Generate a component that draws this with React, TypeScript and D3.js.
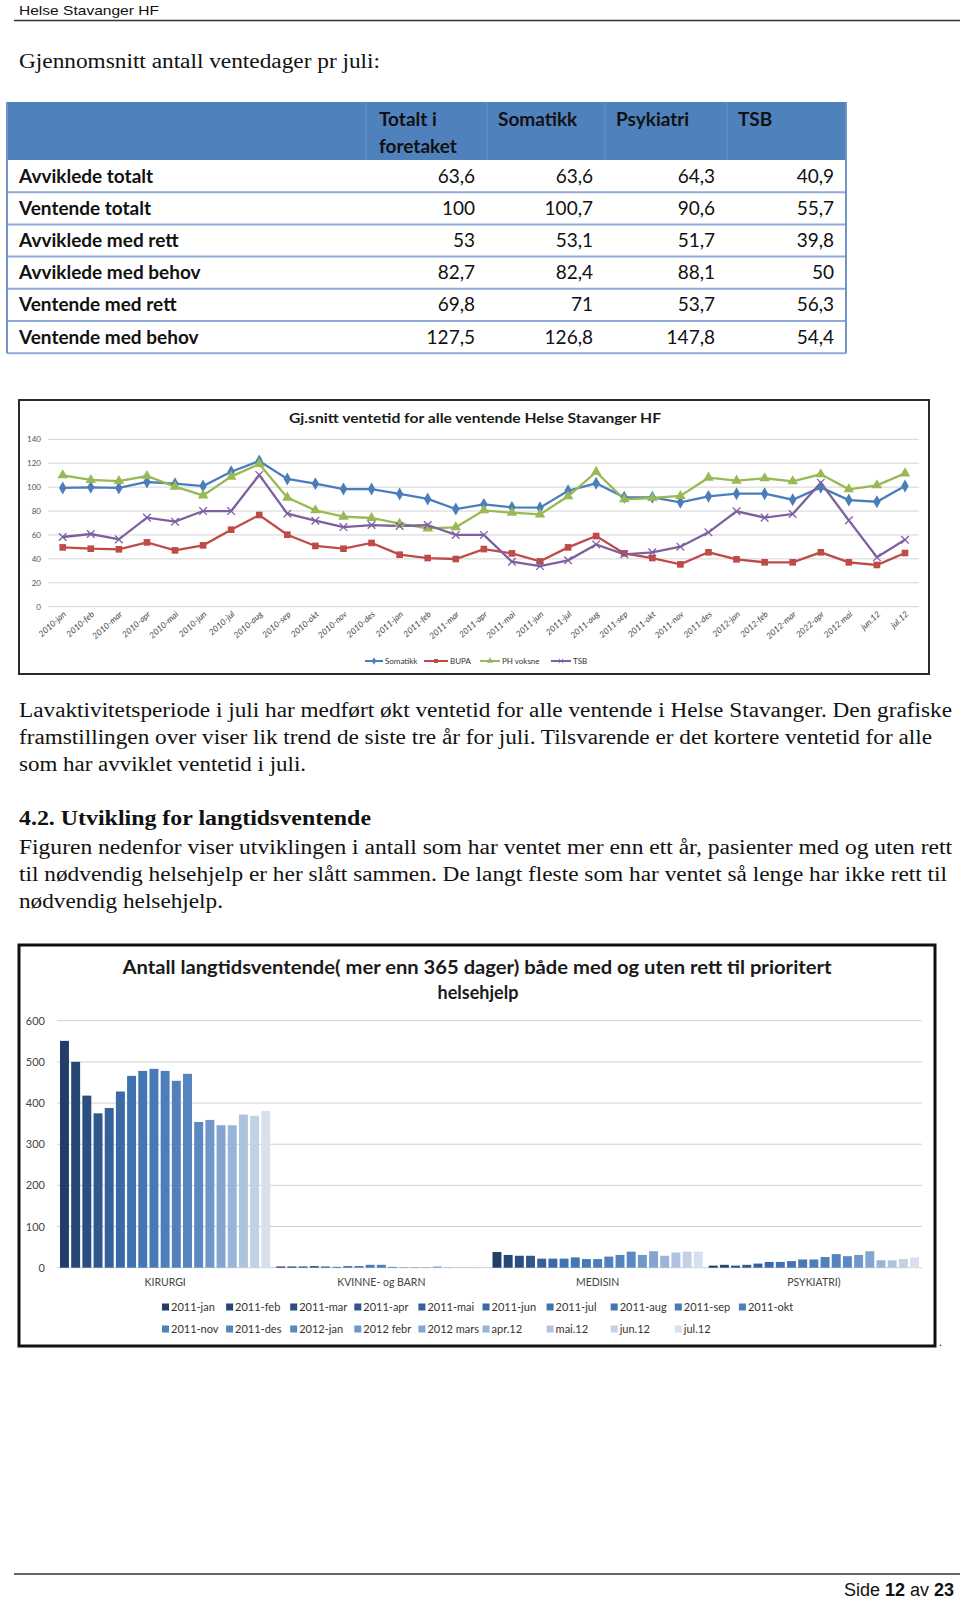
import React from "react";
import * as d3 from "d3";

// ---------- Table data ----------
const tableColumns = ["Totalt i|foretaket", "Somatikk", "Psykiatri", "TSB"];
const tableRows = [
  "Avviklede totalt",
  "Ventende totalt",
  "Avviklede med rett",
  "Avviklede med behov",
  "Ventende med rett",
  "Ventende med behov",
];
const colTotalt = [63.6, 100, 53, 82.7, 69.8, 127.5];
const colSomatikk = [63.6, 100.7, 53.1, 82.4, 71, 126.8];
const colPsykiatri = [64.3, 90.6, 51.7, 88.1, 53.7, 147.8];
const colTSB = [40.9, 55.7, 39.8, 50, 56.3, 54.4];

// ---------- Line chart data ----------
const months = [
  "2010-jan", "2010-feb", "2010-mar", "2010-apr", "2010-mai", "2010-jun", "2010-jul", "2010-aug",
  "2010-sep", "2010-okt", "2010-nov", "2010-des", "2011-jan", "2011-feb", "2011-mar", "2011-apr",
  "2011-mai", "2011-jun", "2011-jul", "2011-aug", "2011-sep", "2011-okt", "2011-nov", "2011-des",
  "2012-jan", "2012-feb", "2012-mar", "2022-apr", "2012 mai", "jun.12", "jul.12",
];
const somatikk = [99.3, 99.8, 99.3, 104.3, 102.9, 100.9, 112.9, 121.9, 106.8, 102.9, 98.4, 98.4, 94.3, 90.1, 81.7, 85.6, 83.1, 82.8, 97.0, 103.2, 91.5, 91.5, 87.3, 92.3, 94.5, 94.5, 89.5, 99.8, 89.2, 87.8, 100.9];
const bupa = [49.6, 48.5, 48.0, 53.8, 47.1, 51.3, 64.4, 76.7, 60.2, 50.8, 48.5, 53.3, 43.5, 40.7, 39.9, 48.2, 44.6, 37.9, 49.6, 59.1, 44.6, 40.7, 35.4, 45.5, 39.6, 37.1, 37.1, 45.5, 37.1, 34.9, 44.9];
const phVoksne = [109.9, 106.0, 105.1, 109.3, 100.4, 93.1, 108.8, 119.4, 91.2, 80.6, 75.3, 74.2, 69.4, 65.5, 66.4, 80.6, 78.6, 77.2, 92.3, 112.7, 89.8, 90.9, 92.6, 107.9, 105.4, 107.4, 104.9, 110.7, 98.2, 101.5, 111.5];
const tsb = [58.3, 60.8, 56.3, 74.5, 71.1, 80.0, 80.0, 110.2, 77.8, 71.9, 66.6, 68.3, 67.5, 68.3, 60.0, 60.0, 37.6, 34.0, 38.8, 52.1, 43.8, 45.5, 50.2, 62.2, 79.8, 74.5, 77.5, 103.7, 72.2, 41.3, 56.0];
const lineSeriesNames = ["Somatikk", "BUPA", "PH voksne", "TSB"];
const lineTicks = [0, 20, 40, 60, 80, 100, 120, 140];

// ---------- Bar chart data ----------
const barGroups = ["KIRURGI", "KVINNE- og BARN", "MEDISIN", "PSYKIATRI)"];
const barSeries = [
  "2011-jan", "2011-feb", "2011-mar", "2011-apr", "2011-mai", "2011-jun", "2011-jul", "2011-aug",
  "2011-sep", "2011-okt", "2011-nov", "2011-des", "2012-jan", "2012 febr", "2012 mars", "apr.12",
  "mai.12", "jun.12", "jul.12",
];
const kirurgi = [551, 500, 418, 375, 388, 428, 466, 478, 483, 478, 454, 471, 354, 359, 346, 346, 372, 369, 381];
const kvinneBarn = [3, 3, 3, 4, 3, 2, 4, 4, 7, 7, 2, 1, 1, 1, 3, 1, 1, 1, 1];
const medisin = [38, 31, 29, 29, 22, 22, 22, 25, 21, 21, 27, 31, 39, 31, 40, 29, 37, 39, 39];
const psykiatri = [5, 7, 5, 7, 10, 14, 14, 16, 20, 20, 26, 33, 28, 31, 40, 18, 18, 21, 25];
const barTicks = [0, 100, 200, 300, 400, 500, 600];

// ---------- Text ----------
const para1 = [
  "Lavaktivitetsperiode i juli har medført økt ventetid for alle ventende i Helse Stavanger. Den grafiske",
  "framstillingen over viser lik trend de siste tre år for juli. Tilsvarende er det kortere ventetid for alle",
  "som har avviklet ventetid i juli.",
];
const para2 = [
  "Figuren nedenfor viser utviklingen i antall som har ventet mer enn ett år, pasienter med og uten rett",
  "til nødvendig helsehjelp er her slått sammen. De langt fleste som har ventet så lenge har ikke rett til",
  "nødvendig helsehjelp.",
];

const SERIF = "'Liberation Serif', 'DejaVu Serif', serif";
const SANS = "Lato, 'Open Sans', sans-serif";
const ARIAL = "'Liberation Sans', Arial, sans-serif";

const fmt = (v: number) => String(v).replace(".", ",");

function Table() {
  const left = 7, right = 846;
  const colEdges = [366, 487, 605, 727, right];
  const headTop = 102, headBot = 160;
  const rowH = 32.2;
  const cols = [colTotalt, colSomatikk, colPsykiatri, colTSB];
  return (
    <g>
      <rect x={left} y={headTop} width={right - left} height={headBot - headTop} fill="#4F81BD" />
      {colEdges.slice(0, 4).map((x, i) => (
        <line key={i} x1={x} x2={x} y1={headTop} y2={headBot} stroke="#6892C8" strokeWidth={1} />
      ))}
      {tableColumns.map((c, i) => {
        const parts = c.split("|");
        const tx = colEdges[i] + (i === 0 ? 13 : 11);
        return (
          <text key={c} x={tx} y={126} fontFamily={SANS} fontWeight={700} fontSize={19} fill="#111">
            {parts.map((p, j) => (
              <tspan key={j} x={tx} dy={j === 0 ? 0 : 27}>{p}</tspan>
            ))}
          </text>
        );
      })}
      {tableRows.map((r, i) => {
        const top = headBot + i * rowH;
        const cy = top + rowH / 2;
        return (
          <g key={r}>
            <text x={19} y={cy + 6.5} fontFamily={SANS} fontWeight={700} fontSize={19} fill="#111">{r}</text>
            {cols.map((col, j) => (
              <text key={j} x={colEdges[j + 1] - 12} y={cy + 6.5} textAnchor="end" fontFamily={SANS} fontSize={19} fill="#111">
                {fmt(col[i])}
              </text>
            ))}
            <line x1={left} x2={right} y1={top + rowH} y2={top + rowH} stroke="#8EAADB" strokeWidth={2} />
          </g>
        );
      })}
      <line x1={left} x2={left} y1={headTop} y2={headBot + rowH * 6} stroke="#6F94C8" strokeWidth={2} />
      <line x1={right} x2={right} y1={headTop} y2={headBot + rowH * 6} stroke="#6F94C8" strokeWidth={2} />
    </g>
  );
}

function LineChart() {
  const x = d3.scalePoint<string>().domain(months).range([62.7, 905]);
  const y = d3.scaleLinear().domain([0, 140]).range([606.7, 439.3]);
  const series = [somatikk, bupa, phVoksne, tsb];
  const colors = ["#4A7EBB", "#BE4B48", "#98B954", "#7D60A0"];
  const line = d3.line<number>().x((_, i) => x(months[i])!).y((d) => y(d));
  const symDiamond = d3.symbol().type(d3.symbolDiamond).size(48)()!;
  const symSquare = d3.symbol().type(d3.symbolSquare).size(44)()!;
  const symTriangle = d3.symbol().type(d3.symbolTriangle).size(48)()!;
  const marker = (s: number, cx: number, cy: number, key: string | number) => {
    if (s === 0) return <path key={key} d={symDiamond} transform={`translate(${cx},${cy})`} fill={colors[0]} />;
    if (s === 1) return <path key={key} d={symSquare} transform={`translate(${cx},${cy})`} fill={colors[1]} />;
    if (s === 2) return <path key={key} d={symTriangle} transform={`translate(${cx},${cy})`} fill={colors[2]} />;
    return (
      <g key={key} stroke={colors[3]} strokeWidth={1.3}>
        <line x1={cx - 3.8} x2={cx + 3.8} y1={cy - 3.8} y2={cy + 3.8} />
        <line x1={cx - 3.8} x2={cx + 3.8} y1={cy + 3.8} y2={cy - 3.8} />
      </g>
    );
  };
  const legendX = [[365, 385], [424, 450], [480, 502], [551, 573]];
  return (
    <g>
      <rect x={19} y={400} width={910} height={274} fill="#fff" stroke="#2b2b2b" strokeWidth={2} />
      <text x={475} y={423} textAnchor="middle" fontFamily={SANS} fontWeight={700} fontSize={13.5} fill="#1a1a1a" textLength={372} lengthAdjust="spacingAndGlyphs">
        Gj.snitt ventetid for alle ventende Helse Stavanger HF
      </text>
      {lineTicks.map((t) => (
        <g key={t}>
          <line x1={48} x2={919} y1={y(t)} y2={y(t)} stroke="#D4D4D4" strokeWidth={1} />
          <text x={41} y={y(t) + 3} textAnchor="end" fontFamily={SANS} fontSize={8} fill="#555">{t}</text>
        </g>
      ))}
      {months.map((m) => (
        <text key={m} transform={`translate(${x(m)! + 4},${615}) rotate(-42)`} textAnchor="end" fontFamily={SANS} fontStyle="italic" fontSize={8.5} fill="#444">
          {m}
        </text>
      ))}
      {series.map((s, si) => (
        <path key={si} d={line(s)!} fill="none" stroke={colors[si]} strokeWidth={2.3} />
      ))}
      {series.map((s, si) => s.map((v, i) => marker(si, x(months[i])!, y(v), `${si}-${i}`)))}
      {lineSeriesNames.map((n, i) => (
        <g key={n}>
          <line x1={legendX[i][0]} x2={legendX[i][1] - 2} y1={661} y2={661} stroke={colors[i]} strokeWidth={2} />
          <g transform={`translate(${(legendX[i][0] + legendX[i][1] - 2) / 2},661) scale(0.6)`}>
            {marker(i, 0, 0, "m" + i)}
          </g>
          <text x={legendX[i][1]} y={664} fontFamily={SANS} fontSize={8} fill="#333">{n}</text>
        </g>
      ))}
    </g>
  );
}

function BarChart() {
  const x0 = d3.scaleBand<string>().domain(barGroups).range([57, 922]);
  const x1 = d3.scaleBand<string>().domain(barSeries).range([3, x0.bandwidth() - 3]).paddingInner(0.2);
  const y = d3.scaleLinear().domain([0, 600]).range([1267.7, 1020.7]);
  const groupValues = [kirurgi, kvinneBarn, medisin, psykiatri];
  const colorInterp = d3.piecewise(d3.interpolateRgb, ["#223E68", "#3F72B2", "#5A88C2", "#D8E0EE"]);
  const color = (i: number) => colorInterp(i / (barSeries.length - 1));
  return (
    <g>
      <rect x={19} y={945} width={916} height={401} fill="#fff" stroke="#111" strokeWidth={3} />
      <text x={477} y={974} textAnchor="middle" fontFamily={SANS} fontWeight={700} fontSize={18} fill="#1a1a1a" textLength={709} lengthAdjust="spacingAndGlyphs">
        Antall langtidsventende( mer enn 365 dager) både med og uten rett til prioritert
      </text>
      <text x={478} y={999} textAnchor="middle" fontFamily={SANS} fontWeight={700} fontSize={18} fill="#1a1a1a">
        helsehjelp
      </text>
      {barTicks.map((t) => (
        <g key={t}>
          <line x1={57} x2={922} y1={y(t)} y2={y(t)} stroke="#D0D0D0" strokeWidth={1} />
          <text x={45} y={y(t) + 4} textAnchor="end" fontFamily={SANS} fontSize={11} fill="#444">{t}</text>
        </g>
      ))}
      {barGroups.map((g, gi) => (
        <g key={g} transform={`translate(${x0(g)},0)`}>
          {barSeries.map((s, si) => {
            const v = groupValues[gi][si];
            return (
              <rect key={s} x={x1(s)} y={y(v)} width={x1.bandwidth()} height={y(0) - y(v)} fill={color(si)} />
            );
          })}
          <text x={x0.bandwidth() / 2} y={1286} textAnchor="middle" fontFamily={SANS} fontSize={10.5} fill="#444">{g}</text>
        </g>
      ))}
      {barSeries.map((s, i) => {
        const row = i < 10 ? 0 : 1;
        const col = i < 10 ? i : i - 10;
        const lx = 162 + col * 64.1;
        const ly = row === 0 ? 1307 : 1329;
        return (
          <g key={s}>
            <rect x={lx} y={ly - 3.5} width={7} height={7} fill={color(i)} />
            <text x={lx + 9} y={ly + 4} fontFamily={SANS} fontSize={11} fill="#333">{s}</text>
          </g>
        );
      })}
    </g>
  );
}

export default function App() {
  return (
    <svg width={960} height={1602} style={{ position: "absolute", left: 0, top: 0, background: "#fff" }}>
      <rect x={0} y={0} width={960} height={1602} fill="#fff" />
      {/* page header */}
      <text x={19} y={15} fontFamily={ARIAL} fontSize={13.5} fill="#111" textLength={140} lengthAdjust="spacingAndGlyphs">Helse Stavanger HF</text>
      <line x1={14} x2={960} y1={20.5} y2={20.5} stroke="#333" strokeWidth={1.6} />

      <text x={19} y={68} fontFamily={SERIF} fontSize={20} fill="#111" textLength={361} lengthAdjust="spacingAndGlyphs">
        Gjennomsnitt antall ventedager pr juli:
      </text>

      <Table />
      <LineChart />

      {para1.map((l, i) => (
        <text key={i} x={19} y={717 + i * 27} fontFamily={SERIF} fontSize={20} fill="#111" textLength={[933, 913, 287][i]} lengthAdjust="spacingAndGlyphs">{l}</text>
      ))}
      <text x={19} y={825} fontFamily={SERIF} fontWeight={700} fontSize={20} fill="#111" textLength={352} lengthAdjust="spacingAndGlyphs">
        4.2. Utvikling for langtidsventende
      </text>
      {para2.map((l, i) => (
        <text key={i} x={19} y={854 + i * 27} fontFamily={SERIF} fontSize={20} fill="#111" textLength={[933, 928, 204][i]} lengthAdjust="spacingAndGlyphs">{l}</text>
      ))}

      <BarChart />
      <text x={939} y={1346} fontFamily={SERIF} fontSize={12} fill="#111">.</text>

      {/* footer */}
      <line x1={14} x2={960} y1={1574} y2={1574} stroke="#333" strokeWidth={1.4} />
      <text x={954} y={1596} textAnchor="end" fontFamily={ARIAL} fontSize={18} fill="#111">
        Side <tspan fontWeight={700}>12</tspan> av <tspan fontWeight={700}>23</tspan>
      </text>
    </svg>
  );
}
